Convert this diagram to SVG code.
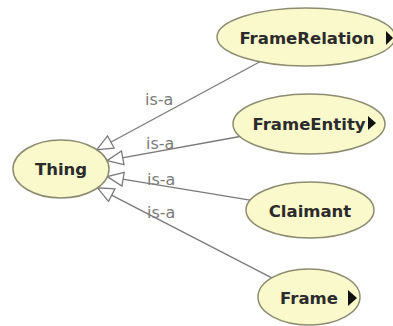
<svg xmlns="http://www.w3.org/2000/svg" width="393" height="326" viewBox="0 0 393 326">
  <style>
    .node ellipse { fill: #f9f9cc; stroke: #8c8c70; stroke-width: 1.5; }
    .node text { font-family: "DejaVu Sans", Verdana, sans-serif; font-weight: bold; font-size: 16.5px; fill: #2b2b2b; text-anchor: middle; }
    .more { fill: #111111; }
    .edge { stroke: #7a7a7a; stroke-width: 1.3; fill: none; marker-end: url(#hollow); }
    .elabel { font-family: "DejaVu Sans", Verdana, sans-serif; font-size: 16px; fill: #7a7a7a; }
  </style>
  <defs>
    <marker id="hollow" viewBox="0 0 18 16" refX="17" refY="8" markerWidth="18" markerHeight="16" markerUnits="userSpaceOnUse" orient="auto">
      <path d="M17,8 L1,1 L1,15 Z" fill="#ffffff" stroke="#7a7a7a" stroke-width="1.3"/>
    </marker>
  </defs>
  <rect x="0" y="0" width="393" height="326" fill="#ffffff"/>

  <g id="connectors">
    <line class="edge" x1="259.9" y1="61.8" x2="96.8" y2="149.7"/>
    <line class="edge" x1="240.0" y1="136.5" x2="107.0" y2="160.7"/>
    <line class="edge" x1="250.1" y1="200.1" x2="107.3" y2="176.6"/>
    <line class="edge" x1="271.8" y1="277.8" x2="97.5" y2="187.8"/>
    <text class="elabel" x="145" y="105">is-a</text>
    <text class="elabel" x="146" y="149">is-a</text>
    <text class="elabel" x="147" y="185">is-a</text>
    <text class="elabel" x="147" y="218">is-a</text>
  </g>

  <g id="node-thing" class="node">
    <ellipse cx="61" cy="169" rx="48" ry="29"/>
    <text x="61" y="175">Thing</text>
  </g>

  <g id="node-framerelation" class="node">
    <ellipse cx="306" cy="37" rx="89" ry="29"/>
    <text x="307" y="44">FrameRelation</text>
    <path class="more" d="M386,31 L393,38 L386,45 Z"/>
  </g>

  <g id="node-frameentity" class="node">
    <ellipse cx="309" cy="124" rx="76" ry="30"/>
    <text x="309" y="130">FrameEntity</text>
    <path class="more" d="M368,116 L376,123 L368,130 Z"/>
  </g>

  <g id="node-claimant" class="node">
    <ellipse cx="310" cy="210" rx="64" ry="28"/>
    <text x="310" y="217">Claimant</text>
  </g>

  <g id="node-frame" class="node">
    <ellipse cx="309" cy="297" rx="51" ry="28"/>
    <text x="309" y="304">Frame</text>
    <path class="more" d="M348,290 L357,298 L348,306 Z"/>
  </g>
</svg>
